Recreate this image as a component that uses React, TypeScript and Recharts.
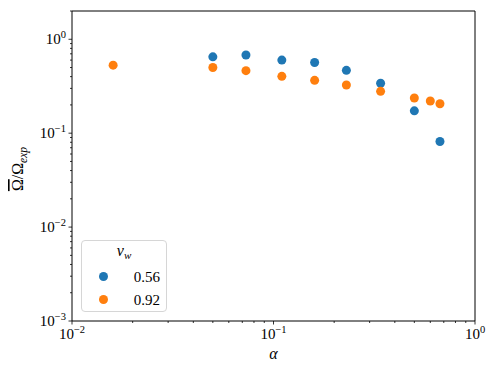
import React from 'react';
import { ScatterChart, Scatter, XAxis, YAxis, ReferenceArea, Legend } from 'recharts';

// alpha values and Omega-bar / Omega_exp for each wall velocity
const alphaSlow = [0.05, 0.073, 0.11, 0.16, 0.23, 0.34, 0.5, 0.67];
const omegaSlow = [0.65, 0.68, 0.6, 0.565, 0.467, 0.34, 0.173, 0.0815];
const alphaFast = [0.016, 0.05, 0.073, 0.11, 0.16, 0.23, 0.34, 0.5, 0.6, 0.67];
const omegaFast = [0.53, 0.5, 0.463, 0.403, 0.365, 0.326, 0.279, 0.237, 0.22, 0.206];

const seriesNames = ['0.56', '0.92'];
const seriesColors = ['#1f77b4', '#ff7f0e'];

const xTicks = [
  0.01, 0.02, 0.03, 0.04, 0.05, 0.06, 0.07, 0.08, 0.09,
  0.1, 0.2, 0.3, 0.4, 0.5, 0.6, 0.7, 0.8, 0.9, 1,
];
const yTicks = [
  0.001, 0.002, 0.003, 0.004, 0.005, 0.006, 0.007, 0.008, 0.009,
  0.01, 0.02, 0.03, 0.04, 0.05, 0.06, 0.07, 0.08, 0.09,
  0.1, 0.2, 0.3, 0.4, 0.5, 0.6, 0.7, 0.8, 0.9, 1, 2,
];

const slowData = alphaSlow.map((a, i) => ({ alpha: a, omega: omegaSlow[i] }));
const fastData = alphaFast.map((a, i) => ({ alpha: a, omega: omegaFast[i] }));

const FONT = 'Liberation Serif, serif';

const isMajor = (v: number) => {
  const l = Math.log10(v);
  return Math.abs(l - Math.round(l)) < 1e-9;
};
const expText = (v: number) => {
  const e = Math.round(Math.log10(v));
  return e < 0 ? '\u2212' + Math.abs(e) : String(e);
};

const XTick = (props: any) => {
  const { x, y, payload } = props;
  const v = payload.value;
  if (!isMajor(v)) {
    return <line x1={x} x2={x} y1={y} y2={y + 2} stroke="#000" strokeWidth={0.8} />;
  }
  return (
    <g>
      <line x1={x} x2={x} y1={y} y2={y + 3.5} stroke="#000" strokeWidth={0.8} />
      <text x={x} y={y + 18} textAnchor="middle" fontFamily={FONT} fontSize={15} fill="#000">
        10
        <tspan dy={-6} fontSize={10.5}>
          {expText(v)}
        </tspan>
      </text>
    </g>
  );
};

const YTick = (props: any) => {
  const { x, y, payload } = props;
  const v = payload.value;
  if (!isMajor(v)) {
    return <line x1={x} x2={x - 2} y1={y} y2={y} stroke="#000" strokeWidth={0.8} />;
  }
  return (
    <g>
      <line x1={x} x2={x - 3.5} y1={y} y2={y} stroke="#000" strokeWidth={0.8} />
      <text x={x - 6} y={y + 5} textAnchor="end" fontFamily={FONT} fontSize={15} fill="#000">
        10
        <tspan dy={-6} fontSize={10.5}>
          {expText(v)}
        </tspan>
      </text>
    </g>
  );
};

const XTitle = (props: any) => {
  const { viewBox } = props;
  return (
    <text
      x={viewBox.x + viewBox.width / 2}
      y={viewBox.y + 38}
      textAnchor="middle"
      fontFamily={FONT}
      fontStyle="italic"
      fontSize={16}
      fill="#000"
    >
      α
    </text>
  );
};

const YTitle = (props: any) => {
  const { viewBox } = props;
  const cx = 23;
  const cy = viewBox.y + viewBox.height / 2 + 3;
  return (
    <text
      x={cx}
      y={cy}
      transform={`rotate(-90 ${cx} ${cy})`}
      textAnchor="middle"
      fontFamily={FONT}
      fontSize={16}
      fill="#000"
    >
      <tspan style={{ textDecoration: 'overline' }}>{'\u03A9'}</tspan>
      {'/\u03A9'}
      <tspan dy={4} fontSize={11.5} fontStyle="italic">
        exp
      </tspan>
    </text>
  );
};

const Dot = (props: any) => {
  const { cx, cy, fill } = props;
  return <circle cx={cx} cy={cy} r={4.5} fill={fill} />;
};

const LegendBox = (props: any) => {
  const items = props.payload || [];
  return (
    <div
      style={{
        position: 'relative',
        width: 86,
        height: 72,
        boxSizing: 'border-box',
        border: '1px solid #d6d6d6',
        borderRadius: 4,
        background: 'rgba(255,255,255,0.8)',
        fontFamily: FONT,
        color: '#000',
      }}
    >
      <div style={{ position: 'absolute', left: 0, width: 84, top: 1, textAlign: 'center', fontSize: 16, fontStyle: 'italic' }}>
        v<sub style={{ fontSize: 11, verticalAlign: -3 }}>w</sub>
      </div>
      {items.map((it: any, i: number) => (
        <div key={it.value} style={{ position: 'absolute', left: 0, top: 26 + i * 23, width: 84, height: 20 }}>
          <span
            style={{
              position: 'absolute',
              left: 17,
              top: 5,
              width: 9,
              height: 9,
              borderRadius: '50%',
              background: it.color,
            }}
          />
          <span style={{ position: 'absolute', right: 6, top: 0, fontSize: 15, lineHeight: '20px', fontFamily: FONT }}>
            {it.value}
          </span>
        </div>
      ))}
    </div>
  );
};

export default function App() {
  return (
    <div style={{ position: 'absolute', left: 0, top: 0, width: 498, height: 374, background: '#fff' }}>
      <ScatterChart width={498} height={374} margin={{ top: 11, right: 23, bottom: 0, left: 0 }}>
        <XAxis
          dataKey="alpha"
          type="number"
          scale="log"
          domain={[0.01, 1]}
          allowDataOverflow
          ticks={xTicks}
          interval={0}
          height={53}
          tickSize={0}
          tickMargin={0}
          tickLine={false}
          axisLine={false}
          tick={<XTick />}
          label={<XTitle />}
        />
        <YAxis
          dataKey="omega"
          type="number"
          scale="log"
          domain={[0.001, 2]}
          allowDataOverflow
          ticks={yTicks}
          interval={0}
          width={72}
          tickSize={0}
          tickMargin={0}
          tickLine={false}
          axisLine={false}
          tick={<YTick />}
          label={<YTitle />}
        />
        <ReferenceArea x1={0.01} x2={1} y1={0.001} y2={2} fill="none" stroke="#000" strokeWidth={1} />
        <Scatter name={seriesNames[0]} data={slowData} fill={seriesColors[0]} shape={<Dot />} isAnimationActive={false} />
        <Scatter name={seriesNames[1]} data={fastData} fill={seriesColors[1]} shape={<Dot />} isAnimationActive={false} />
        <Legend
          layout="vertical"
          align="center"
          verticalAlign="middle"
          content={<LegendBox />}
          wrapperStyle={{ left: 81, top: 240, width: 86, height: 72 }}
        />
      </ScatterChart>
    </div>
  );
}
